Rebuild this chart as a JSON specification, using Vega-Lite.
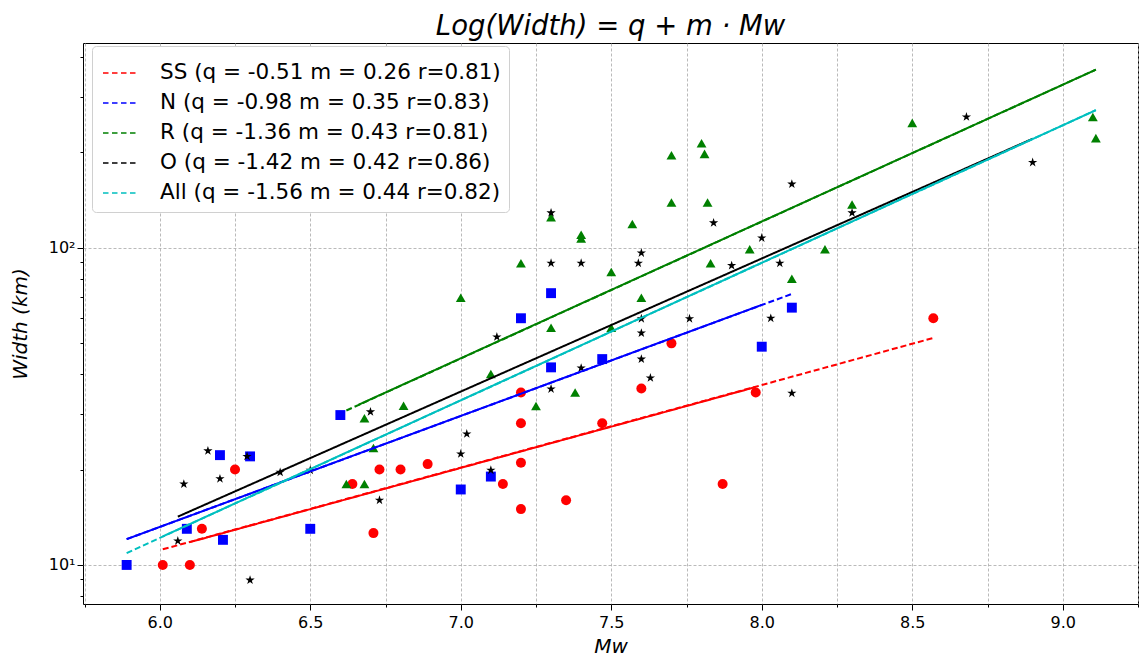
{
  "$schema": "https://vega.github.io/schema/vega-lite/v6.json",
  "autosize": "none",
  "width": 1055,
  "height": 561,
  "padding": {"left": 83, "top": 43, "right": 1, "bottom": 58},
  "background": "white",
  "title": {"text": "Log(Width) = q + m · Mᴡ", "font": "DejaVu Sans", "fontSize": 27.5, "fontStyle": "italic", "fontWeight": "normal", "color": "black", "anchor": "middle", "offset": 3},
  "config": {
    "view": {"stroke": "black", "strokeWidth": 1},
    "axis": {"labelFont": "DejaVu Sans", "titleFont": "DejaVu Sans", "labelColor": "black", "titleColor": "black", "tickColor": "black", "domain": false, "titleFontWeight": "normal", "titleFontStyle": "italic", "titleFontSize": 20, "labelFontSize": 16},
    "legend": {"orient": "none", "legendX": 9, "legendY": 3, "title": null,
      "symbolType": "stroke", "symbolSize": 1296, "symbolStrokeWidth": 1.5, "symbolDash": [5.5, 3.5], "symbolFillColor": "transparent", "symbolOffset": 2,
      "labelFont": "DejaVu Sans", "labelFontSize": 21.5, "labelColor": "black", "labelLimit": 600,
      "labelOffset": 20, "rowPadding": 0, "padding": 8,
      "fillColor": "white", "strokeColor": "#d0d0d0", "cornerRadius": 4}
  },
  "datasets": {
    "pts": [
      {"g": "SS", "x": 6.01, "w": 10}, {"g": "SS", "x": 6.10, "w": 10}, {"g": "SS", "x": 6.14, "w": 13}, {"g": "SS", "x": 6.25, "w": 20},
      {"g": "SS", "x": 6.64, "w": 18}, {"g": "SS", "x": 6.71, "w": 12.6}, {"g": "SS", "x": 6.73, "w": 20}, {"g": "SS", "x": 6.80, "w": 20},
      {"g": "SS", "x": 6.89, "w": 20.8}, {"g": "SS", "x": 7.14, "w": 18}, {"g": "SS", "x": 7.20, "w": 35}, {"g": "SS", "x": 7.20, "w": 28},
      {"g": "SS", "x": 7.20, "w": 21}, {"g": "SS", "x": 7.20, "w": 15}, {"g": "SS", "x": 7.35, "w": 16}, {"g": "SS", "x": 7.47, "w": 28},
      {"g": "SS", "x": 7.60, "w": 36}, {"g": "SS", "x": 7.70, "w": 50}, {"g": "SS", "x": 7.87, "w": 18}, {"g": "SS", "x": 7.98, "w": 35},
      {"g": "SS", "x": 8.57, "w": 60},
      {"g": "N", "x": 5.89, "w": 10}, {"g": "N", "x": 6.09, "w": 13}, {"g": "N", "x": 6.21, "w": 12}, {"g": "N", "x": 6.20, "w": 22.2},
      {"g": "N", "x": 6.30, "w": 22}, {"g": "N", "x": 6.50, "w": 13}, {"g": "N", "x": 6.60, "w": 29.7}, {"g": "N", "x": 7.00, "w": 17.3},
      {"g": "N", "x": 7.10, "w": 19}, {"g": "N", "x": 7.20, "w": 60}, {"g": "N", "x": 7.30, "w": 72}, {"g": "N", "x": 7.30, "w": 42},
      {"g": "N", "x": 7.47, "w": 44.6}, {"g": "N", "x": 8.00, "w": 48.8}, {"g": "N", "x": 8.10, "w": 64.8},
      {"g": "R", "x": 6.62, "w": 18}, {"g": "R", "x": 6.68, "w": 18}, {"g": "R", "x": 6.68, "w": 29}, {"g": "R", "x": 6.71, "w": 23.4},
      {"g": "R", "x": 6.81, "w": 31.8}, {"g": "R", "x": 7.00, "w": 69.6}, {"g": "R", "x": 7.10, "w": 40}, {"g": "R", "x": 7.20, "w": 89.5},
      {"g": "R", "x": 7.25, "w": 31.7}, {"g": "R", "x": 7.30, "w": 125}, {"g": "R", "x": 7.30, "w": 56}, {"g": "R", "x": 7.38, "w": 35},
      {"g": "R", "x": 7.40, "w": 110}, {"g": "R", "x": 7.40, "w": 107}, {"g": "R", "x": 7.50, "w": 84}, {"g": "R", "x": 7.50, "w": 56},
      {"g": "R", "x": 7.57, "w": 119}, {"g": "R", "x": 7.60, "w": 69.6}, {"g": "R", "x": 7.70, "w": 196}, {"g": "R", "x": 7.70, "w": 139},
      {"g": "R", "x": 7.80, "w": 214}, {"g": "R", "x": 7.81, "w": 198}, {"g": "R", "x": 7.82, "w": 139}, {"g": "R", "x": 7.83, "w": 89.5},
      {"g": "R", "x": 7.96, "w": 99}, {"g": "R", "x": 8.10, "w": 80}, {"g": "R", "x": 8.21, "w": 99}, {"g": "R", "x": 8.30, "w": 137},
      {"g": "R", "x": 8.50, "w": 248}, {"g": "R", "x": 9.10, "w": 259}, {"g": "R", "x": 9.11, "w": 222},
      {"g": "O", "x": 6.06, "w": 11.9}, {"g": "O", "x": 6.08, "w": 18}, {"g": "O", "x": 6.16, "w": 22.9}, {"g": "O", "x": 6.20, "w": 18.7},
      {"g": "O", "x": 6.29, "w": 22}, {"g": "O", "x": 6.30, "w": 8.96}, {"g": "O", "x": 6.40, "w": 19.6}, {"g": "O", "x": 6.50, "w": 19.9},
      {"g": "O", "x": 6.70, "w": 30.4}, {"g": "O", "x": 6.73, "w": 16}, {"g": "O", "x": 7.00, "w": 22.4}, {"g": "O", "x": 7.02, "w": 25.9},
      {"g": "O", "x": 7.10, "w": 19.9}, {"g": "O", "x": 7.12, "w": 52.4}, {"g": "O", "x": 7.30, "w": 35.9}, {"g": "O", "x": 7.30, "w": 129},
      {"g": "O", "x": 7.30, "w": 89.5}, {"g": "O", "x": 7.40, "w": 41.8}, {"g": "O", "x": 7.40, "w": 89.5}, {"g": "O", "x": 7.59, "w": 89.5},
      {"g": "O", "x": 7.60, "w": 96.4}, {"g": "O", "x": 7.60, "w": 59.8}, {"g": "O", "x": 7.60, "w": 53.9}, {"g": "O", "x": 7.60, "w": 44.6},
      {"g": "O", "x": 7.63, "w": 38.9}, {"g": "O", "x": 7.76, "w": 59.8}, {"g": "O", "x": 7.84, "w": 120}, {"g": "O", "x": 7.90, "w": 88},
      {"g": "O", "x": 8.00, "w": 107.5}, {"g": "O", "x": 8.03, "w": 60}, {"g": "O", "x": 8.06, "w": 89.5}, {"g": "O", "x": 8.10, "w": 159},
      {"g": "O", "x": 8.10, "w": 34.8}, {"g": "O", "x": 8.30, "w": 129}, {"g": "O", "x": 8.68, "w": 259}, {"g": "O", "x": 8.90, "w": 186}
    ],
    "lines": [
      {"g": "SS", "seg": "dash", "x": 6.01, "w": 11.2}, {"g": "SS", "seg": "dash", "x": 8.57, "w": 52},
      {"g": "SS", "seg": "solid", "x": 6.10, "w": 11.8}, {"g": "SS", "seg": "solid", "x": 7.98, "w": 36.4},
      {"g": "N", "seg": "dash", "x": 5.89, "w": 12.06}, {"g": "N", "seg": "dash", "x": 8.10, "w": 71.6},
      {"g": "N", "seg": "solid", "x": 5.89, "w": 12.06}, {"g": "N", "seg": "solid", "x": 8.00, "w": 66.1},
      {"g": "R", "seg": "dash", "x": 6.62, "w": 30.7}, {"g": "R", "seg": "dash", "x": 9.11, "w": 365},
      {"g": "R", "seg": "solid", "x": 6.66, "w": 32.0}, {"g": "R", "seg": "solid", "x": 9.11, "w": 365},
      {"g": "O", "seg": "solid", "x": 6.06, "w": 14.2}, {"g": "O", "seg": "solid", "x": 8.90, "w": 221},
      {"g": "All", "seg": "dash", "x": 5.89, "w": 10.9}, {"g": "All", "seg": "dash", "x": 9.11, "w": 272},
      {"g": "All", "seg": "solid", "x": 6.01, "w": 12.3}, {"g": "All", "seg": "solid", "x": 9.11, "w": 272}
    ]
  },
  "layer": [
    {
      "data": {"name": "pts"},
      "mark": {"type": "point", "filled": true, "opacity": 1},
      "encoding": {
        "x": {"field": "x", "type": "quantitative",
          "scale": {"domain": [5.745, 9.25], "nice": false, "zero": false},
          "axis": {"title": "Mᴡ", "titlePadding": 6,
            "values": [5.75, 6, 6.25, 6.5, 6.75, 7, 7.25, 7.5, 7.75, 8, 8.25, 8.5, 8.75, 9, 9.25],
            "labelExpr": "abs(datum.value*2 - round(datum.value*2)) < 0.001 ? format(datum.value, '.1f') : ''",
            "tickSize": {"condition": {"test": "abs(datum.value*2 - round(datum.value*2)) < 0.001", "value": 6}, "value": 3},
            "labelPadding": 4,
            "grid": true, "gridColor": "#a8a8a8", "gridDash": [3, 2], "gridWidth": 0.8}},
        "y": {"field": "w", "type": "quantitative",
          "scale": {"type": "log", "domain": [7.53, 443], "nice": false, "zero": false},
          "axis": {"title": "Width   (km)", "titlePadding": 18,
            "values": [8, 9, 10, 20, 30, 40, 50, 60, 70, 80, 90, 100, 200, 300, 400],
            "labelExpr": "datum.value == 10 ? '10¹' : (datum.value == 100 ? '10²' : '')",
            "tickSize": {"condition": {"test": "datum.value == 10 || datum.value == 100", "value": 6}, "value": 3},
            "grid": true, "gridColor": "#a8a8a8", "gridDash": [3, 2], "gridWidth": 0.8,
            "gridOpacity": {"condition": {"test": "datum.value == 10 || datum.value == 100", "value": 1}, "value": 0}}},
        "color": {"field": "g", "type": "nominal",
          "scale": {"domain": ["SS", "N", "R", "O", "All"], "range": ["#ff0000", "#0000ff", "#008000", "#000000", "#00bfbf"]},
          "legend": {
            "labelExpr": "datum.label == 'SS' ? 'SS (q = -0.51 m = 0.26 r=0.81)' : datum.label == 'N' ? 'N (q = -0.98 m = 0.35 r=0.83)' : datum.label == 'R' ? 'R (q = -1.36 m = 0.43 r=0.81)' : datum.label == 'O' ? 'O (q = -1.42 m = 0.42 r=0.86)' : 'All (q = -1.56 m = 0.44 r=0.82)'"}},
        "shape": {"field": "g", "type": "nominal",
          "scale": {"domain": ["SS", "N", "R", "O"], "range": ["circle", "square", "triangle-up", "M0,-1L0.2245,-0.309L0.951,-0.309L0.363,0.118L0.588,0.809L0,0.382L-0.588,0.809L-0.363,0.118L-0.951,-0.309L-0.2245,-0.309Z"]},
          "legend": null},
        "size": {"field": "g", "type": "nominal",
          "scale": {"domain": ["SS", "N", "R", "O"], "range": [100, 95, 105, 150]},
          "legend": null}
      }
    },
    {
      "data": {"name": "lines"},
      "mark": {"type": "line", "strokeWidth": 2},
      "encoding": {
        "x": {"field": "x", "type": "quantitative"},
        "y": {"field": "w", "type": "quantitative"},
        "detail": {"field": "seg", "type": "nominal"},
        "strokeDash": {"field": "seg", "type": "nominal", "scale": {"domain": ["dash", "solid"], "range": [[6, 3], [1, 0]]}, "legend": null},
        "color": {"field": "g", "type": "nominal"}
      }
    }
  ]
}
